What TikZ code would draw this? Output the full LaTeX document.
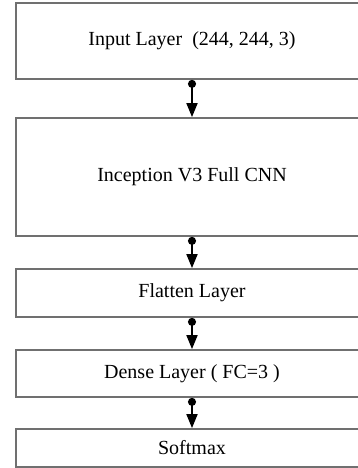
\documentclass[tikz,border=0pt]{standalone}
\usepackage{fontspec}
\setmainfont{Liberation Serif}
\usetikzlibrary{arrows.meta}
\definecolor{boxgray}{RGB}{112,112,112}
\begin{document}
\begin{tikzpicture}[x=1pt,y=1pt,
    layer/.style={shape=rectangle,draw=boxgray,line width=1.8pt,minimum width=352pt,inner sep=0pt,font=\fontsize{20}{24}\selectfont},
    link/.style={line width=1.8pt,{Circle[length=8pt]}-{Triangle[length=14pt,width=11pt]}}]
    \useasboundingbox (0,0) rectangle (358,468);
    \clip (0,0) rectangle (358,468);
    \node[layer,minimum height=76pt] (input) at (192,427) {Input Layer\ \ (244, 244, 3)};
    \node[layer,minimum height=118pt] (cnn) at (192,291) {Inception V3 Full CNN};
    \node[layer,minimum height=48pt] (flat) at (192,175) {Flatten Layer};
    \node[layer,minimum height=47pt] (dense) at (192,94.5) {Dense Layer ( FC=3 )};
    \node[layer,minimum height=38pt] (soft) at (192,20) {Softmax};
    \path (input) edge[link] (cnn);
    \path (cnn) edge[link] (flat);
    \path (flat) edge[link] (dense);
    \path (dense) edge[link] (soft);
\end{tikzpicture}
\end{document}
